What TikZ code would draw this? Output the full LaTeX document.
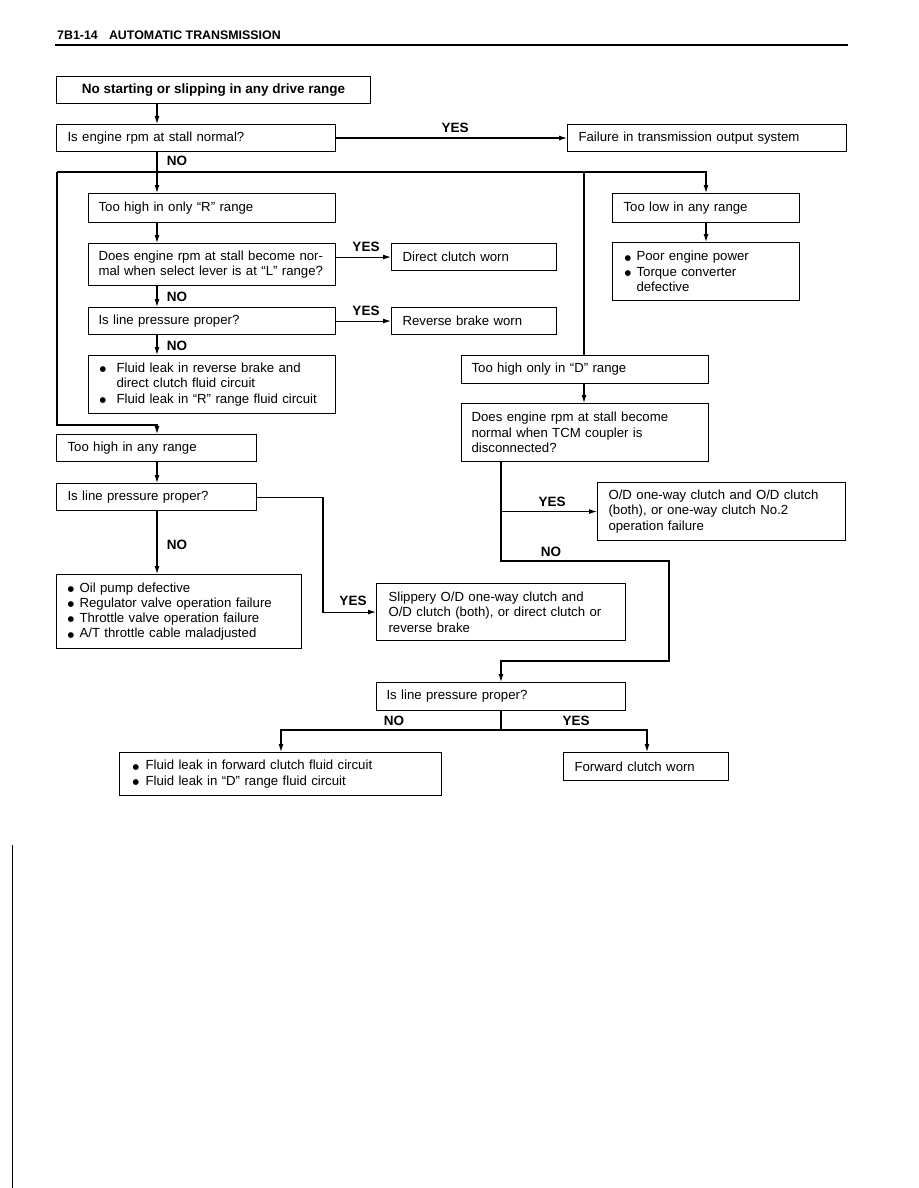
\documentclass[tikz,border=0pt]{standalone}
\usepackage{fontspec}
\setmainfont{Liberation Sans}
\newfontfamily\dejavu{DejaVu Sans}
\usetikzlibrary{arrows.meta}
\newcommand\mybul[1]{\makebox[#1][l]{\raisebox{0.8pt}{\dejavu\fontsize{7.5}{7.5}\selectfont ●}}}
\newcommand\bx[7][11]{%
  \pgfmathsetmacro\bw{#5-#3}\pgfmathsetmacro\bh{#6-#4}\pgfmathsetmacro\tw{#5-#3-2*#1}%
  \node[box,inner xsep=#1pt,text width=\tw pt,minimum width=\bw pt,minimum height=\bh pt] (#2) at (#3,#4) {#7};}
\begin{document}
\begin{tikzpicture}[x=1pt,y=-1pt,
  box/.style={draw,line width=1.1pt,anchor=north west,align=left,inner ysep=0pt,
    font=\fontsize{13.2}{15.3}\selectfont},
  lbl/.style={font=\bfseries\fontsize{13.5}{15}\selectfont,inner sep=0pt},
  ln/.style={line width=1.1pt},
  arr/.style={line width=1.1pt,-{Latex[length=8pt,width=5pt]}}]
\useasboundingbox (0,0) rectangle (918,1188);
\fill[white] (0,0) rectangle (918,1188);

% header
\node[anchor=base west,inner sep=0pt,font=\bfseries\fontsize{12.4}{14}\selectfont] (hdr) at (57,40) {7B1-14\hspace{0.9em}AUTOMATIC TRANSMISSION};
\draw[line width=2pt] (55,45) -- (848,45);
\draw[line width=1pt] (12,845) -- (12,1188);

% boxes
\node[draw,line width=1.1pt,anchor=north west,inner sep=0pt,minimum width=314pt,minimum height=27pt,
  font=\bfseries\fontsize{13.5}{15.3}\selectfont] (b1) at (56,76) {No starting or slipping in any drive range};
\bx{b2}{56}{124}{335}{151}{Is engine rpm at stall normal?}
\bx{b3}{567}{124}{846}{151}{Failure in transmission output system}
\bx[10]{b4}{88}{193}{335}{222}{Too high in only “R” range}
\bx[10]{b5}{88}{243}{335}{285}{\mbox{Does engine rpm at stall become nor-}\\\mbox{mal when select lever is at “L” range?}}
\bx[10]{b6}{88}{307}{335}{334}{Is line pressure proper?}
\bx[11]{b7}{88}{355}{335}{413}{\mybul{17pt}Fluid leak in reverse brake and\\\hspace*{17pt}direct clutch fluid circuit\\\mybul{17pt}\mbox{Fluid leak in “R” range fluid circuit}}
\bx{b8}{391}{243}{556}{270}{Direct clutch worn}
\bx{b9}{391}{307}{556}{334}{Reverse brake worn}
\bx{b10}{612}{193}{799}{222}{Too low in any range}
\bx[12]{b11}{612}{242}{799}{300}{\mybul{12pt}Poor engine power\\\mybul{12pt}Torque converter\\\hspace*{12pt}defective}
\bx[10]{b12}{461}{355}{708}{383}{Too high only in “D” range}
\bx[10]{b13}{461}{403}{708}{461}{Does engine rpm at stall become\\normal when TCM coupler is\\disconnected?}
\bx{b14}{597}{482}{845}{540}{\mbox{O/D one-way clutch and O/D clutch}\\(both), or one-way clutch No.2\\operation failure}
\bx{b15}{56}{434}{256}{461}{Too high in any range}
\bx{b16}{56}{483}{256}{510}{Is line pressure proper?}
\bx[11]{b17}{56}{574}{301}{648}{\mybul{12pt}Oil pump defective\\\mybul{12pt}\mbox{Regulator valve operation failure}\\\mybul{12pt}\mbox{Throttle valve operation failure}\\\mybul{12pt}\mbox{A/T throttle cable maladjusted}}
\bx[12]{b18}{376}{583}{625}{640}{Slippery O/D one-way clutch and\\\mbox{O/D clutch (both), or direct clutch or}\\reverse brake}
\bx[10]{b19}{376}{682}{625}{710}{Is line pressure proper?}
\bx[13]{b20}{119}{752}{441}{795}{\mybul{13pt}\mbox{Fluid leak in forward clutch fluid circuit}\\\mybul{13pt}Fluid leak in “D” range fluid circuit}
\bx{b21}{563}{752}{728}{780}{Forward clutch worn}

% guide coordinates
\coordinate (xA) at (157,0);
\coordinate (xL) at (57,0);
\coordinate (xM) at (584,0);
\coordinate (xR) at (706,0);
\coordinate (xN) at (501,0);
\coordinate (xY) at (323,0);
\coordinate (xT) at (669,0);
\coordinate (xF) at (281,0);
\coordinate (xG) at (647,0);
\coordinate (yH) at (0,172);
\coordinate (yRail) at (0,425);
\coordinate (yN1) at (0,561);
\coordinate (yN2) at (0,661);
\coordinate (yS) at (0,730);

% connectors
\draw[arr] (xA |- b1.south) -- (xA |- b2.north);
\draw[arr] (b2.east) -- (b3.west);
\draw[arr] (xA |- b2.south) -- (xA |- b4.north);
\draw[arr] (xL |- yH) -- (xR |- yH) -- (xR |- b10.north);
\draw[ln] (xM |- yH) -- (xM |- b12.north);
\draw[arr] (xL |- yH) -- (xL |- yRail) -- (xA |- yRail) -- (xA |- b15.north);
\draw[arr] (xA |- b4.south) -- (xA |- b5.north);
\draw[arr] (xA |- b5.south) -- (xA |- b6.north);
\draw[arr] (xA |- b6.south) -- (xA |- b7.north);
\draw[arr] (b8.west -| b5.east) -- (b8.west);
\draw[arr] (b6.east) -- (b9.west);
\draw[arr] (xR |- b10.south) -- (xR |- b11.north);
\draw[arr] (xM |- b12.south) -- (xM |- b13.north);
\draw[arr] (xN |- b13.south) -- (xN |- yN1) -- (xT |- yN1) -- (xT |- yN2) -- (xN |- yN2) -- (xN |- b19.north);
\draw[arr] (b14.west -| xN) -- (b14.west);
\draw[arr] (xA |- b15.south) -- (xA |- b16.north);
\draw[arr] (xA |- b16.south) -- (xA |- b17.north);
\draw[arr] (b16.east) -- (xY |- b16.east) -- (xY |- b18.west) -- (b18.west);
\draw[ln] (xN |- b19.south) -- (xN |- yS);
\draw[arr] (xN |- yS) -- (xF |- yS) -- (xF |- b20.north);
\draw[arr] (xN |- yS) -- (xG |- yS) -- (xG |- b21.north);

% labels
\node[lbl] (l1) at (455,128) {YES};
\node[lbl] (l2) at (177,161) {NO};
\node[lbl] (l3) at (366,247) {YES};
\node[lbl] (l4) at (177,297) {NO};
\node[lbl] (l5) at (366,311) {YES};
\node[lbl] (l6) at (177,346) {NO};
\node[lbl] (l7) at (552,502) {YES};
\node[lbl] (l8) at (551,552) {NO};
\node[lbl] (l9) at (177,545) {NO};
\node[lbl] (l10) at (353,601) {YES};
\node[lbl] (l11) at (394,721) {NO};
\node[lbl] (l12) at (576,721) {YES};
\end{tikzpicture}
\end{document}
